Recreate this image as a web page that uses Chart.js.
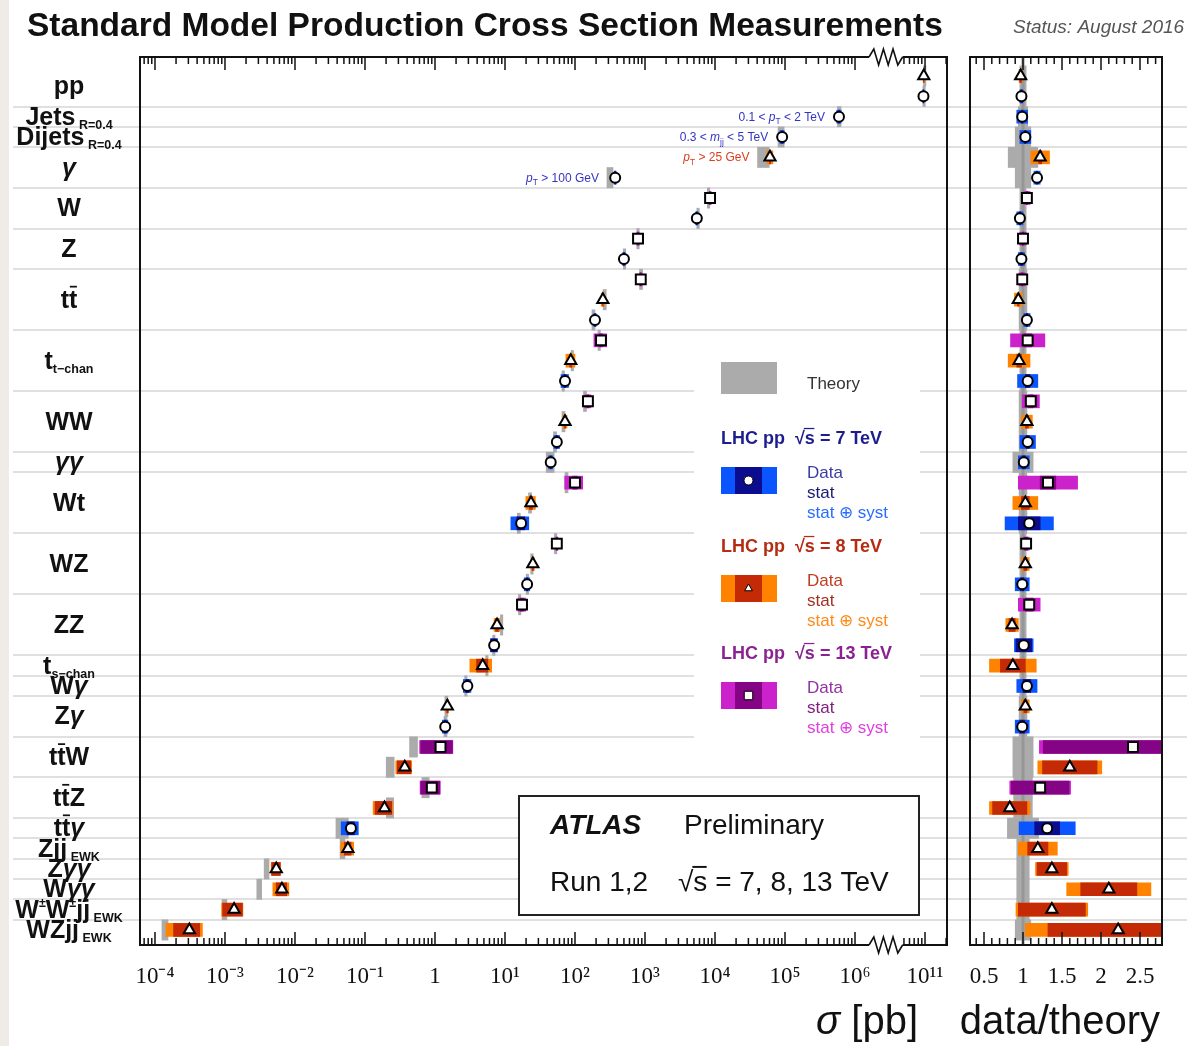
<!DOCTYPE html>
<html>
<head>
<meta charset="utf-8">
<title>Standard Model Production Cross Section Measurements</title>
<script src="https://cdn.jsdelivr.net/npm/chart.js@4.4.1/dist/chart.umd.min.js"></script>
<style>
  body { margin: 0; background: #fff; }
  #wrap {
    position: relative; width: 1187px; height: 1046px; overflow: hidden;
    background: linear-gradient(to right, #efebe6 0, #efebe6 9px, #fff 9px);
  }
  #wrap canvas { position: absolute; left: 0; top: 0; }
</style>
</head>
<body>
<div id="wrap">
  <canvas id="chartMain" width="1187" height="1046"></canvas>
  <canvas id="chartRatio" width="1187" height="1046"></canvas>
</div>
<script>
// ---- data (top row first) ----
const categories = ['pp', 'Jets_{ R=0.4}', 'Dijets_{ R=0.4}', '#gamma', 'W', 'Z', 't#bar{t}',
  't_{t#minuschan}', 'WW', '#gamma#gamma', 'Wt', 'WZ', 'ZZ', 't_{s#minuschan}', 'W#gamma', 'Z#gamma',
  't#bar{t}W', 't#bar{t}Z', 't#bar{t}#gamma', 'Zjj_{ EWK}', 'Z#gamma#gamma', 'W#gamma#gamma',
  'W^{#pm}W^{#pm}jj_{ EWK}', 'WZjj_{ EWK}'];
const catCounts = [2, 1, 1, 2, 2, 2, 3, 3, 3, 1, 3, 3, 3, 1, 1, 2, 2, 2, 1, 1, 1, 1, 1, 1];

// one entry per measurement
const energies = [8, 7, 7, 7, 8, 7, 13, 7, 13, 7, 13, 8, 7, 13, 8, 7, 13, 8, 7, 7, 13, 8, 7,
  13, 8, 7, 13, 8, 7, 8, 7, 8, 7, 13, 8, 13, 8, 7, 8, 8, 8, 8, 8];
const sigmaPb = [9.6e10, 9.5e10, 5.9e5, 9.1e4, 6.1e4, 375, 8.5e3, 5.5e3, 795, 500, 870, 250, 193,
  235, 87, 72, 153, 72, 55, 45, 100, 23.5, 17, 55, 25, 20.7, 17.5, 7.7, 7.0, 4.8, 2.9, 1.5, 1.4,
  1.2, 0.37, 0.9, 0.19, 0.063, 0.057, 0.0054, 0.0065, 0.00135, 0.00031];
const ratio = [0.97, 0.98, 0.99, 1.03, 1.22, 1.18, 1.05, 0.96, 1.0, 0.98, 0.99, 0.94, 1.05, 1.06,
  0.95, 1.06, 1.10, 1.05, 1.06, 1.01, 1.32, 1.03, 1.08, 1.04, 1.03, 0.99, 1.08, 0.86, 1.01, 0.87,
  1.05, 1.03, 0.99, 2.41, 1.60, 1.22, 0.83, 1.31, 1.19, 1.37, 2.10, 1.37, 2.22];
const ratioStat = [0.01, 0.01, 0.01, 0.01, 0.02, 0.01, 0.01, 0.01, 0.01, 0.01, 0.01, 0.01, 0.01,
  0.05, 0.03, 0.03, 0.03, 0.02, 0.02, 0.02, 0.10, 0.05, 0.14, 0.02, 0.02, 0.02, 0.05, 0.04, 0.10,
  0.16, 0.05, 0.02, 0.03, 1.15, 0.35, 0.37, 0.22, 0.16, 0.13, 0.19, 0.36, 0.43, 0.90];
const ratioTot = [0.02, 0.02, 0.07, 0.07, 0.12, 0.04, 0.04, 0.04, 0.04, 0.04, 0.04, 0.05, 0.04,
  0.22, 0.14, 0.13, 0.11, 0.07, 0.10, 0.07, 0.38, 0.16, 0.31, 0.04, 0.05, 0.09, 0.14, 0.08, 0.12,
  0.30, 0.13, 0.05, 0.09, 1.20, 0.41, 0.39, 0.26, 0.36, 0.25, 0.21, 0.54, 0.46, 1.19];
const theoryErr = [0.04, 0.04, 0.06, 0.10, 0.19, 0.10, 0.04, 0.04, 0.04, 0.04, 0.05, 0.05, 0.05,
  0.04, 0.04, 0.04, 0.05, 0.05, 0.05, 0.13, 0.05, 0.05, 0.05, 0.04, 0.04, 0.04, 0.04, 0.04, 0.04,
  0.04, 0.04, 0.05, 0.05, 0.13, 0.13, 0.12, 0.12, 0.20, 0.08, 0.08, 0.08, 0.08, 0.10];

// phase-space notes next to the jet / photon points
const noteIdx = [2, 3, 4, 5];
const noteTexts = ['0.1 < #it{p}_{T} < 2 TeV', '0.3 < #it{m}_{jj} < 5 TeV', '#it{p}_{T} > 25 GeV', '#it{p}_{T} > 100 GeV'];

// axis ticks
const xTickSigma = [1e-4, 1e-3, 1e-2, 1e-1, 1, 1e1, 1e2, 1e3, 1e4, 1e5, 1e6, 1e11];
const xTickLabels = ['10⁻⁴', '10⁻³', '10⁻²', '10⁻¹', '1', '10¹', '10²', '10³', '10⁴', '10⁵', '10⁶', '10¹¹'];
const rTickVals = [0.5, 1, 1.5, 2, 2.5];
const rTickLabels = ['0.5', '1', '1.5', '2', '2.5'];

// ---- styling ----
const SANS = "'Liberation Sans', Arial, Helvetica, sans-serif";
const SERIF = "'Liberation Serif', 'Times New Roman', serif";
const statColors = { 7: '#0c0c8f', 8: '#c42a06', 13: '#850385' };
const totColors = { 7: '#0a55ff', 8: '#ff8300', 13: '#cc22cc' };
const noteColors = { 7: '#3434c4', 8: '#d8401c' };
const THEORY = '#ababab';
const markerStyles = { 7: ['circle', 5], 8: ['triangle', 6.5], 13: ['rect', 7] };

// log axis with a break: everything above 1e8 pb is moved 4 decades to the left
const BREAK_FROM = 1e8, BREAK_SHIFT = 4;
const BREAK_LO = 6.2, BREAK_HI = 6.68;
const X_MIN = -4.214, X_MAX = 7.314;
const R_MIN = 0.3205, R_MAX = 2.782;
const Y_MIN = -0.935, Y_MAX = 42.74;

function toU(s) { return s > BREAK_FROM ? Math.log10(s) - BREAK_SHIFT : Math.log10(s); }

// row helpers
const catStart = [];
catCounts.reduce((acc, c) => { catStart.push(acc); return acc + c; }, 0);
const separators = catStart.slice(1).map(s => s - 0.5);

// ---- tiny TLatex-like text ----
function parseTex(str) {
  const segs = [];
  let buf = '', i = 0;
  const flush = () => { if (buf) segs.push({ t: buf }); buf = ''; };
  const symbols = { '#gamma': ['γ', true], '#sigma': ['σ', true], '#pm': ['±', false], '#minus': ['−', false], '#oplus': ['⊕', false] };
  while (i < str.length) {
    if (str.startsWith('_{', i) || str.startsWith('^{', i)) {
      flush();
      const j = str.indexOf('}', i);
      const key = str[i] === '_' ? 'sub' : 'sup';
      parseTex(str.slice(i + 2, j)).forEach(s => { s[key] = true; segs.push(s); });
      i = j + 1;
      continue;
    }
    if (str.startsWith('#bar{', i) || str.startsWith('#it{', i)) {
      flush();
      const j = str.indexOf('}', i);
      const isBar = str.startsWith('#bar{', i);
      segs.push(isBar ? { t: str.slice(i + 5, j), bar: true } : { t: str.slice(i + 4, j), it: true });
      i = j + 1;
      continue;
    }
    if (str.startsWith('#sqrt{s}', i)) {
      flush();
      segs.push({ t: '√' }, { t: 's', bar: true, sq: true });
      i += 8;
      continue;
    }
    const sym = Object.keys(symbols).find(k => str.startsWith(k, i));
    if (sym) {
      flush();
      segs.push({ t: symbols[sym][0], it: symbols[sym][1] });
      i += sym.length;
      continue;
    }
    buf += str[i];
    i++;
  }
  flush();
  return segs;
}

function drawTex(ctx, str, x, y, o) {
  const segs = parseTex(str);
  const size = o.size, fam = o.family || SANS, weight = o.weight || 'normal';
  const subSize = size * (o.subScale || 0.55);
  const subDy = o.subDy !== undefined ? o.subDy : 0.3;
  const fontOf = s => ((s.it || o.it) ? 'italic ' : '') + ((s.sub || s.sup) ? (o.subWeight || weight) : weight) + ' ' +
    ((s.sub || s.sup) ? subSize : size) + 'px ' + fam;
  let w = 0;
  segs.forEach(s => { ctx.font = fontOf(s); s.w = ctx.measureText(s.t).width; w += s.w; });
  let cx = o.align === 'center' ? x - w / 2 : o.align === 'right' ? x - w : x;
  ctx.save();
  ctx.fillStyle = o.color || '#000';
  ctx.strokeStyle = o.color || '#000';
  ctx.textBaseline = 'alphabetic';
  ctx.textAlign = 'left';
  segs.forEach(s => {
    ctx.font = fontOf(s);
    const dy = s.sub ? size * subDy : s.sup ? -size * 0.42 : 0;
    ctx.fillText(s.t, cx, y + dy);
    if (s.bar) {
      ctx.lineWidth = Math.max(1, size * 0.07);
      const by = y + dy - size * (s.sq ? 0.86 : 0.84);
      ctx.beginPath();
      ctx.moveTo(cx + (s.sq ? -1 : s.w * 0.1), by);
      ctx.lineTo(cx + s.w * 0.95, by);
      ctx.stroke();
    }
    cx += s.w;
  });
  ctx.restore();
  return w;
}

// ---- dataset builders ----
function markerSets(xOf) {
  return [7, 8, 13].map(E => ({
    type: 'scatter',
    label: E + ' TeV',
    data: energies.map((e, i) => (e === E ? { x: xOf(i), y: i } : null)).filter(Boolean),
    pointStyle: markerStyles[E][0],
    pointRadius: markerStyles[E][1],
    pointBackgroundColor: '#fff',
    pointBorderColor: '#000',
    pointBorderWidth: 2,
    order: 0
  }));
}

function bandSet(data, colorOf, maxThick, order) {
  return {
    type: 'bar',
    indexAxis: 'y',
    grouped: false,
    barPercentage: 1,
    categoryPercentage: 1,
    maxBarThickness: maxThick,
    clip: 0,
    borderWidth: 0,
    backgroundColor: colorOf,
    data,
    order
  };
}

const statColorOf = ctx => statColors[energies[ctx.dataIndex]];
const totColorOf = ctx => totColors[energies[ctx.dataIndex]];

function sigmaBand(errs) {
  return energies.map((e, i) => ({
    x: [toU(sigmaPb[i] * (ratio[i] - errs[i]) / ratio[i]), toU(sigmaPb[i] * (ratio[i] + errs[i]) / ratio[i])],
    y: i
  }));
}
function sigmaTheory() {
  return energies.map((e, i) => ({
    x: [toU(sigmaPb[i] / ratio[i] * (1 - theoryErr[i])), toU(sigmaPb[i] / ratio[i] * (1 + theoryErr[i]))],
    y: i
  }));
}
function ratioBand(errs) {
  return energies.map((e, i) => ({ x: [ratio[i] - errs[i], ratio[i] + errs[i]], y: i }));
}
function ratioTheory() {
  return energies.map((e, i) => ({ x: [1 - theoryErr[i], 1 + theoryErr[i]], y: i }));
}

// ---- drawing helpers ----
function drawFrameTicks(ctx, area, scale, major, minor) {
  ctx.save();
  ctx.strokeStyle = '#111';
  ctx.lineWidth = 2;
  ctx.strokeRect(area.left, area.top, area.right - area.left, area.bottom - area.top);
  ctx.lineWidth = 1.5;
  const tick = (v, len) => {
    const px = scale.getPixelForValue(v);
    ctx.beginPath();
    ctx.moveTo(px, area.bottom); ctx.lineTo(px, area.bottom - len);
    ctx.moveTo(px, area.top); ctx.lineTo(px, area.top + len);
    ctx.stroke();
  };
  major.forEach(v => tick(v, 13));
  minor.forEach(v => tick(v, 7));
  ctx.restore();
}

function drawBreak(ctx, area, scale) {
  const xa = scale.getPixelForValue(BREAK_LO), xb = scale.getPixelForValue(BREAK_HI);
  ctx.save();
  [area.top, area.bottom].forEach(yy => {
    ctx.fillStyle = '#fff';
    ctx.fillRect(xa, yy - 2, xb - xa, 4);
    ctx.strokeStyle = '#111';
    ctx.lineWidth = 1.6;
    ctx.beginPath();
    ctx.moveTo(xa, yy);
    const n = 7;
    for (let k = 1; k <= n; k++) {
      const px = xa + (xb - xa) * k / n;
      ctx.lineTo(px, k === n ? yy : yy + (k % 2 ? -8 : 8));
    }
    ctx.stroke();
  });
  ctx.restore();
}

function legendBlock(ctx, y0, head, headColor, E, texts, textColors, markerStyle) {
  drawTex(ctx, head, 721, y0, { size: 18, weight: 'bold', color: headColor });
  ctx.fillStyle = totColors[E];
  ctx.fillRect(721, y0 + 23, 56, 27);
  ctx.fillStyle = statColors[E];
  ctx.fillRect(735, y0 + 23, 27, 27);
  ctx.fillStyle = '#fff';
  ctx.strokeStyle = '#000';
  Chart.helpers.drawPoint(ctx, { pointStyle: markerStyle, radius: markerStyle === 'rect' ? 6 : 4.5, borderWidth: 1.5 }, 748.5, y0 + 36.5);
  texts.forEach((t, k) => drawTex(ctx, t, 807, y0 + 34 + 20 * k, { size: 17, color: textColors[k] }));
}

// ---- main panel decorations ----
const mainDecor = {
  id: 'mainDecor',
  beforeDatasetsDraw(chart) {
    const { ctx } = chart;
    const y = chart.scales.y;
    ctx.save();
    ctx.strokeStyle = '#e0e0e0';
    ctx.lineWidth = 2;
    separators.forEach(v => {
      const py = Math.round(y.getPixelForValue(v));
      ctx.beginPath();
      ctx.moveTo(13, py);
      ctx.lineTo(1187, py);
      ctx.stroke();
    });
    ctx.restore();
  },
  afterDatasetsDraw(chart) {
    const { ctx, chartArea: area } = chart;
    const x = chart.scales.x, y = chart.scales.y;

    // process names
    categories.forEach((c, k) => {
      const py = y.getPixelForValue(catStart[k] + (catCounts[k] - 1) / 2);
      drawTex(ctx, c, 69, py + 8, { size: 25, weight: 'bold', subScale: 0.5, subDy: 0.16, align: 'center', color: '#111' });
    });

    // phase-space notes
    noteIdx.forEach((i, k) => {
      const mk = x.getPixelForValue(toU(sigmaPb[i])) - 6;
      const th = x.getPixelForValue(toU(sigmaPb[i] / ratio[i] * (1 - theoryErr[i])));
      drawTex(ctx, noteTexts[k], Math.min(mk, th) - 8, y.getPixelForValue(i) + 4,
        { size: 12, color: noteColors[energies[i]], align: 'right', subScale: 0.7 });
    });

    // frame, ticks, axis break
    const minor = [];
    for (let d = -5; d <= 7; d++) {
      for (let k = 2; k <= 9; k++) {
        const u = d + Math.log10(k);
        if (u > X_MIN && u < X_MAX && (u < BREAK_LO || u > BREAK_HI)) minor.push(u);
      }
    }
    drawFrameTicks(ctx, area, x, xTickSigma.map(toU), minor);
    drawBreak(ctx, area, x);

    // legend
    ctx.save();
    ctx.fillStyle = '#fff';
    ctx.fillRect(694, 354, 226, 388);
    ctx.fillStyle = THEORY;
    ctx.fillRect(721, 362, 56, 32);
    ctx.restore();
    drawTex(ctx, 'Theory', 807, 389, { size: 17, color: '#333' });
    legendBlock(ctx, 444, 'LHC pp  #sqrt{s} = 7 TeV', '#1d1d8e', 7, ['Data', 'stat', 'stat #oplus syst'],
      ['#3c3ca2', '#1a1a70', '#2a6cff'], 'circle');
    legendBlock(ctx, 552, 'LHC pp  #sqrt{s} = 8 TeV', '#b42c12', 8, ['Data', 'stat', 'stat #oplus syst'],
      ['#c03c22', '#a33020', '#ff8a1a'], 'triangle');
    legendBlock(ctx, 659, 'LHC pp  #sqrt{s} = 13 TeV', '#8a2292', 13, ['Data', 'stat', 'stat #oplus syst'],
      ['#9232a2', '#802080', '#e040e0'], 'rect');

    // ATLAS box
    ctx.save();
    ctx.fillStyle = '#fff';
    ctx.fillRect(519, 796, 400, 119);
    ctx.strokeStyle = '#222';
    ctx.lineWidth = 2;
    ctx.strokeRect(519, 796, 400, 119);
    ctx.restore();
    drawTex(ctx, 'ATLAS', 550, 834, { size: 28, weight: 'bold', it: true, color: '#111' });
    drawTex(ctx, 'Preliminary', 684, 834, { size: 28, color: '#111' });
    drawTex(ctx, 'Run 1,2', 550, 891, { size: 28, color: '#111' });
    drawTex(ctx, '#sqrt{s} = 7, 8, 13 TeV', 678, 891, { size: 28, color: '#111' });

    // titles
    drawTex(ctx, '#sigma [pb]', 918, 1034, { size: 40, color: '#111', align: 'right' });
    drawTex(ctx, 'Standard Model Production Cross Section Measurements', 27, 36, { size: 33.5, weight: 'bold', color: '#111' });
    drawTex(ctx, 'Status: August 2016', 1013, 33, { size: 19, it: true, color: '#555' });
  }
};

// ---- ratio panel decorations ----
const ratioDecor = {
  id: 'ratioDecor',
  beforeDatasetDraw(chart, args) {
    if (args.index !== 4) return;
    const { ctx, chartArea: area } = chart;
    const px = chart.scales.x.getPixelForValue(1);
    ctx.save();
    ctx.strokeStyle = '#969696';
    ctx.lineWidth = 3;
    ctx.beginPath();
    ctx.moveTo(px, area.top);
    ctx.lineTo(px, area.bottom);
    ctx.stroke();
    ctx.restore();
  },
  afterDatasetsDraw(chart) {
    const { ctx, chartArea: area } = chart;
    const minor = [];
    for (let k = 4; k <= 27; k++) if (k % 5) minor.push(k / 10);
    drawFrameTicks(ctx, area, chart.scales.x, rTickVals, minor);
    drawTex(ctx, 'data/theory', 1160, 1034, { size: 40, color: '#111', align: 'right' });
  }
};

function xAxis(min, max, tickVals, labels) {
  return {
    type: 'linear',
    min, max,
    offset: false,
    bounds: 'data',
    afterBuildTicks: s => { s.ticks = tickVals.map(v => ({ value: v })); },
    afterFit: s => { s.height = 101; },
    ticks: {
      callback: (v, i) => labels[i],
      autoSkip: false,
      maxRotation: 0,
      padding: 18,
      color: '#111',
      font: { family: SERIF, size: 23 }
    },
    grid: { display: false, drawTicks: false, offset: false },
    border: { display: false }
  };
}
const yAxis = {
  type: 'linear', display: false, reverse: true, offset: false, bounds: 'data',
  min: Y_MIN, max: Y_MAX, grid: { offset: false }
};

const common = {
  responsive: false,
  animation: false,
  events: [],
  plugins: { legend: { display: false }, tooltip: { enabled: false } }
};

// Main panel: cross sections
new Chart(document.getElementById('chartMain'), {
  type: 'scatter',
  data: {
    datasets: [
      ...markerSets(i => toU(sigmaPb[i])),
      bandSet(sigmaBand(ratioStat), statColorOf, 13, 1),
      bandSet(sigmaBand(ratioTot), totColorOf, 13, 2),
      bandSet(sigmaTheory(), THEORY, 22, 3)
    ]
  },
  options: {
    ...common,
    layout: { padding: { left: 140, top: 57, right: 240, bottom: 0 } },
    scales: { x: xAxis(X_MIN, X_MAX, xTickSigma.map(toU), xTickLabels), y: yAxis }
  },
  plugins: [mainDecor]
});

// Right panel: data/theory
new Chart(document.getElementById('chartRatio'), {
  type: 'scatter',
  data: {
    datasets: [
      ...markerSets(i => ratio[i]),
      bandSet(ratioBand(ratioStat), statColorOf, 13, 1),
      bandSet(ratioBand(ratioTot), totColorOf, 13, 2),
      bandSet(ratioTheory(), THEORY, 22, 3)
    ]
  },
  options: {
    ...common,
    layout: { padding: { left: 970, top: 57, right: 25, bottom: 0 } },
    scales: { x: xAxis(R_MIN, R_MAX, rTickVals, rTickLabels), y: yAxis }
  },
  plugins: [ratioDecor]
});
</script>
</body>
</html>
